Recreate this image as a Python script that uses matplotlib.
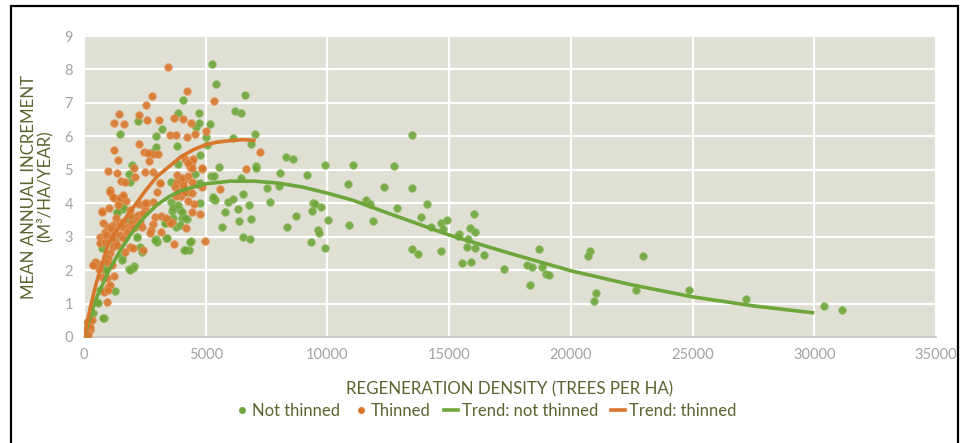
import matplotlib.pyplot as plt
import matplotlib.patches as patches
from matplotlib.lines import Line2D

## datos
# no raleado (not thinned)
green_x = [5260, 5430, 6620, 4070, 6210, 6450, 4730, 2220, 3860, 4600, 4730, 5180, 3200, 2960,
           1480, 5000, 6120, 6870, 7030, 5060, 3820, 2960, 2840, 4770, 5550, 7070, 7070, 3860,
           1970, 1850, 1890, 5220, 5340, 4560, 6450, 4640, 4770, 3570, 4230, 5300, 5380, 5920,
           6120, 6530, 6780, 6330, 5800, 6370, 6860, 5670, 6530, 6830, 3570, 3620, 3950, 3660,
           4030, 4230, 3330, 3490, 3780, 3950, 3370, 2960, 3000, 4400, 4110, 4320, 2060, 1850,
           1560, 950, 900, 1270, 820, 530, 370, 250, 0, 1600, 1850, 2100, 2180, 2300, 1360, 740,
           1270, 860, 660, 8300, 8600, 8050, 8010, 7510, 7640, 8350, 8700, 9170, 9420, 9500,
           9380, 9340, 9630, 9670, 9900, 11050, 10850, 12330, 11590, 11760, 9740, 10030, 10890,
           11880, 9900, 13480, 12740, 13480, 12870, 14100, 13850, 14260, 14670, 14750, 14920,
           16030, 15860, 16070, 15410, 15370, 15780, 15740, 16070, 13480, 13730, 14670, 15530,
           15910, 16440, 17260, 18210, 18410, 18700, 18820, 18990, 19110, 18330, 20800, 20710,
           21040, 20960, 22690, 22980, 24870, 27210, 30410, 31150, 1600, 1360, 1890, 2180, 2380,
           2010, 1890, 1560, 1190, 860, 580, 780, 3660, 3860, 4030, 4150, 3330, 3620, 2920, 3410,
           4360, 4150, 4770, 5300]
green_y = [8.16, 7.56, 7.24, 7.09, 6.76, 6.70, 6.70, 6.46, 6.70, 6.28, 6.40, 6.37, 6.22, 6.01,
           6.07, 5.99, 5.96, 5.77, 6.07, 5.74, 5.71, 5.68, 5.53, 5.44, 5.08, 5.11, 5.05, 5.17,
           5.14, 4.87, 4.64, 4.81, 4.81, 4.87, 4.75, 4.58, 4.61, 4.64, 4.34, 4.13, 4.10, 4.04,
           4.13, 4.28, 3.95, 3.83, 3.74, 3.47, 3.53, 3.29, 2.99, 2.93, 4.04, 3.77, 3.80, 3.56,
           3.56, 3.53, 3.41, 3.50, 3.29, 3.35, 2.96, 2.93, 2.84, 2.88, 2.60, 2.60, 2.12, 2.03,
           2.39, 2.36, 2.12, 1.37, 0.57, 1.05, 0.72, 0.48, 0.0, 3.83, 3.50, 3.29, 2.99, 2.69,
           3.71, 2.66, 2.90, 2.06, 1.40, 5.38, 5.32, 4.90, 4.52, 4.46, 4.04, 3.29, 3.62, 4.84,
           4.01, 3.98, 3.77, 2.84, 3.20, 3.11, 5.14, 5.14, 4.58, 4.49, 4.10, 3.98, 3.89, 3.50,
           3.35, 3.47, 2.66, 6.04, 5.11, 4.46, 3.86, 3.98, 3.59, 3.29, 3.41, 3.23, 3.50, 3.68,
           3.26, 3.14, 3.08, 3.02, 2.93, 2.69, 2.66, 2.63, 2.48, 2.57, 2.21, 2.24, 2.45, 2.03,
           2.15, 2.09, 2.63, 2.09, 1.88, 1.85, 1.56, 2.57, 2.42, 1.32, 1.08, 1.41, 2.42, 1.41,
           1.14, 0.93, 0.81, 3.89, 3.74, 3.65, 2.99, 2.54, 2.06, 2.00, 2.30, 2.84, 2.00, 1.02,
           0.57, 3.86, 3.95, 3.74, 3.56, 3.41, 3.41, 2.90, 2.96, 2.84, 2.60, 4.01, 4.19]

# raleado (thinned)
orange_x = [3450, 4230, 2800, 5350, 2550, 1440, 1230, 1640, 2270, 2600, 3080, 3700, 4070, 4400,
            3530, 3790, 4230, 4560, 5000, 7230, 6670, 5600, 4850, 4960, 3700, 1230, 1400, 975,
            1360, 2270, 2470, 2840, 2660, 2060, 2510, 2840, 3130, 2090, 1520, 1680, 1070, 1070,
            1230, 1440, 1600, 1730, 740, 1030, 1930, 2510, 2840, 2590, 2260, 2920, 3160, 2840,
            2750, 3170, 2440, 380, 530, 620, 740, 990, 950, 820, 125, 250, 1230, 4110, 4440,
            4340, 4110, 4520, 4770, 4270, 4440, 3820, 3990, 3620, 4200, 3530, 3780, 1190, 1480,
            1600, 740, 1400, 1890, 2220, 2430, 2510, 780, 990, 1190, 1480, 1600, 1770, 1970,
            2180, 2300, 860, 1070, 1270, 1480, 660, 660, 860, 1600, 1270, 1190, 1890, 2010, 450,
            370, 1070, 990, 950, 1150, 950, 1070, 990, 330, 250, 125, 165, 2630, 3040, 4150,
            4480, 4270, 4440, 4850, 3820, 4030, 4270, 3120, 3740, 4070, 4440, 3860, 4150, 4440,
            4850, 900, 1100, 1320, 1550, 1750, 2000, 1150, 1350, 1700, 2400, 2700, 3350, 3000]
orange_y = [8.07, 7.36, 7.20, 7.06, 6.93, 6.67, 6.40, 6.37, 6.63, 6.48, 6.48, 6.56, 6.52, 6.39,
            6.03, 6.03, 5.99, 6.07, 6.16, 5.53, 5.02, 4.43, 5.02, 2.88, 2.78, 5.59, 5.29, 4.96,
            4.90, 5.77, 5.53, 5.47, 5.26, 5.05, 4.93, 4.93, 4.61, 4.79, 4.67, 4.64, 4.40, 4.34,
            4.16, 4.07, 4.19, 4.07, 3.77, 3.86, 3.62, 3.86, 4.04, 4.01, 3.98, 3.59, 3.62, 3.38,
            3.20, 3.14, 2.60, 2.15, 2.21, 2.03, 1.80, 1.50, 1.05, 1.35, 0.45, 0.20, 1.82, 4.46,
            5.24, 5.09, 4.70, 3.98, 3.68, 4.07, 3.74, 4.64, 4.22, 3.44, 3.26, 3.41, 4.22, 4.19,
            4.16, 4.25, 3.74, 3.95, 3.80, 3.65, 3.70, 4.00, 3.41, 3.29, 3.35, 3.41, 3.44, 3.29,
            3.41, 3.50, 3.44, 3.14, 3.11, 3.11, 3.05, 2.99, 2.81, 2.84, 2.96, 2.84, 2.69, 2.69,
            2.66, 2.24, 2.15, 2.51, 2.36, 2.24, 2.15, 1.76, 1.55, 1.40, 0.51, 0.30, 0.15, 0.06,
            5.50, 5.47, 5.32, 5.32, 5.20, 5.05, 5.05, 4.84, 4.75, 4.81, 4.61, 4.49, 4.55, 4.64,
            4.34, 4.34, 4.31, 4.49, 3.05, 3.25, 3.55, 3.30, 3.15, 3.25, 2.95, 2.75, 2.55, 3.30,
            3.10, 3.55, 4.35]

# curvas de tendencia
trend_green_x = [0, 250, 500, 1000, 1500, 2000, 2500, 3000, 3500, 4000, 5000, 6000, 7000, 8000,
                 9000, 10000, 11000, 12500, 15000, 17500, 20000, 22500, 25000, 27500, 30000]
trend_green_y = [0, 0.6, 1.15, 1.95, 2.6, 3.15, 3.6, 3.95, 4.2, 4.38, 4.58, 4.66, 4.66, 4.6,
                 4.48, 4.3, 4.1, 3.7, 3.05, 2.5, 1.98, 1.56, 1.2, 0.93, 0.72]
trend_orange_x = [0, 250, 500, 1000, 1500, 2000, 2500, 3000, 3500, 4000, 4500, 5000, 5500, 6000,
                  6500, 7050]
trend_orange_y = [0, 0.85, 1.6, 2.8, 3.35, 3.85, 4.35, 4.8, 5.1, 5.4, 5.6, 5.75, 5.83, 5.87,
                  5.9, 5.88]

xticks = [0, 5000, 10000, 15000, 20000, 25000, 30000, 35000]
yticks = list(range(10))

GREEN = '#6fa63a'
ORANGE = '#d8772c'
OLIVE = '#5b6330'
TICK = '#a3a3a3'

plt.rcParams['font.family'] = ['Lato', 'DejaVu Sans']

fig = plt.figure(figsize=(9.63, 4.43), dpi=100)
ax = fig.add_axes([0.0872, 0.2393, 0.8848, 0.6794])
ax.set_facecolor('#dfdfd4')

ax.scatter(green_x, green_y, s=30, color=GREEN, alpha=0.9, linewidths=0.6,
           edgecolors='#8dbb62', zorder=3)
ax.scatter(orange_x, orange_y, s=30, color=ORANGE, alpha=0.9, linewidths=0.6,
           edgecolors='#e49a62', zorder=3)
ax.plot(trend_green_x, trend_green_y, color=GREEN, lw=2.6, solid_capstyle='butt', zorder=4)
ax.plot(trend_orange_x, trend_orange_y, color=ORANGE, lw=2.6, solid_capstyle='butt', zorder=4)

## ejes
ax.set_xlim(0, 35000)
ax.set_ylim(0, 9)
ax.set_xticks(xticks)
ax.set_yticks(yticks)
ax.tick_params(length=0, labelsize=10.5, colors=TICK, pad=8)
ax.grid(True, color='white', lw=1.6)
ax.set_axisbelow(True)
for s in ['top', 'right', 'left']:
    ax.spines[s].set_visible(False)
ax.spines['bottom'].set_color('#c4c4c4')
ax.spines['bottom'].set_linewidth(1.2)

ax.set_ylabel('MEAN ANNUAL INCREMENT\n(M³/HA/YEAR)', color=OLIVE, fontsize=12.2,
              linespacing=1.0, labelpad=8)
ax.set_xlabel('REGENERATION DENSITY (TREES PER HA)', color=OLIVE, fontsize=12.2, labelpad=14)

## leyenda
handles = [
    Line2D([], [], marker='o', ls='none', color=GREEN, markersize=4),
    Line2D([], [], marker='o', ls='none', color=ORANGE, markersize=4),
    Line2D([], [], color=GREEN, lw=2.6),
    Line2D([], [], color=ORANGE, lw=2.6),
]
labels = ['Not thinned', 'Thinned', 'Trend: not thinned', 'Trend: thinned']
leg = fig.legend(handles, labels, loc='center', bbox_to_anchor=(0.504, 0.072), ncol=4,
                 frameon=False, fontsize=12, handlelength=0.85, handletextpad=0.2,
                 columnspacing=0.8)
for t in leg.get_texts():
    t.set_color(OLIVE)

## marco
fig.patches.append(patches.Rectangle((0.0114, -0.05), 0.983, 1.0365, transform=fig.transFigure,
                                     fill=False, edgecolor='black', lw=1.6))

fig.savefig('out.png', dpi=100)
